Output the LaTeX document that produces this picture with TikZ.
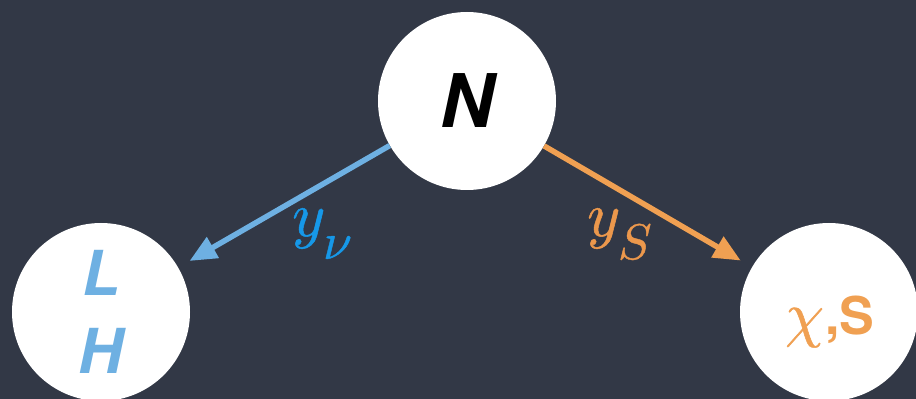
\documentclass[tikz,border=0pt]{standalone}
\usepackage{fontspec}
\usepackage{tikz}
\usetikzlibrary{arrows.meta,positioning}
\newfontfamily\herosfont{TeX Gyre Heros}
\newfontfamily\symfont{Latin Modern Math}[FakeBold=0.8]
\definecolor{slate}{RGB}{50,56,70}
\definecolor{nublue}{RGB}{110,176,226}
\definecolor{yukblue}{RGB}{22,152,232}
\definecolor{singorange}{RGB}{240,160,82}
\definecolor{labelorange}{RGB}{236,152,76}
% coupling label: big y, lowered index
\newcommand{\yuk}[2]{{\symfont\fontsize{63}{63}\selectfont 𝑦}%
  \raisebox{-23pt}{\symfont\fontsize{#2}{#2}\selectfont #1}}
\begin{document}
\begin{tikzpicture}[x=1pt,y=1pt,
    ball/.style={circle,fill=white,minimum size=178pt,inner sep=0pt},
    coupling/.style={line width=5.5pt,-{Triangle[length=27pt,width=23pt]},shorten >=13pt}]
  \clip (0,0) rectangle (916,399);
  \fill[slate] (0,0) rectangle (916,399);
  % fields
  \node[ball,font=\herosfont\bfseries\itshape\fontsize{74}{80}\selectfont] (heavy) at (467,298) {N};
  \node[ball,text=nublue,align=center,
        font=\herosfont\bfseries\itshape\fontsize{62}{78}\selectfont] (lep) at (101,87) {L\\H};
  \node[ball] (dark) at (829,87) {};
  \node[anchor=base west,inner sep=0pt,text=singorange] (darkname) at (785,64)
    {{\symfont\fontsize{62}{62}\selectfont 𝜒}\hspace{1pt}%
     {\herosfont\bfseries\fontsize{52}{52}\selectfont,S}};
  % couplings
  \draw[coupling,nublue] (heavy) -- (lep);
  \draw[coupling,singorange] (heavy) -- (dark);
  \node[anchor=base west,inner sep=0pt,text=yukblue] (ynu) at (292,163) {\yuk{𝜈}{52}};
  \node[anchor=base west,inner sep=0pt,text=labelorange] (ys) at (587,163) {\yuk{𝑆}{50}};
\end{tikzpicture}
\end{document}
